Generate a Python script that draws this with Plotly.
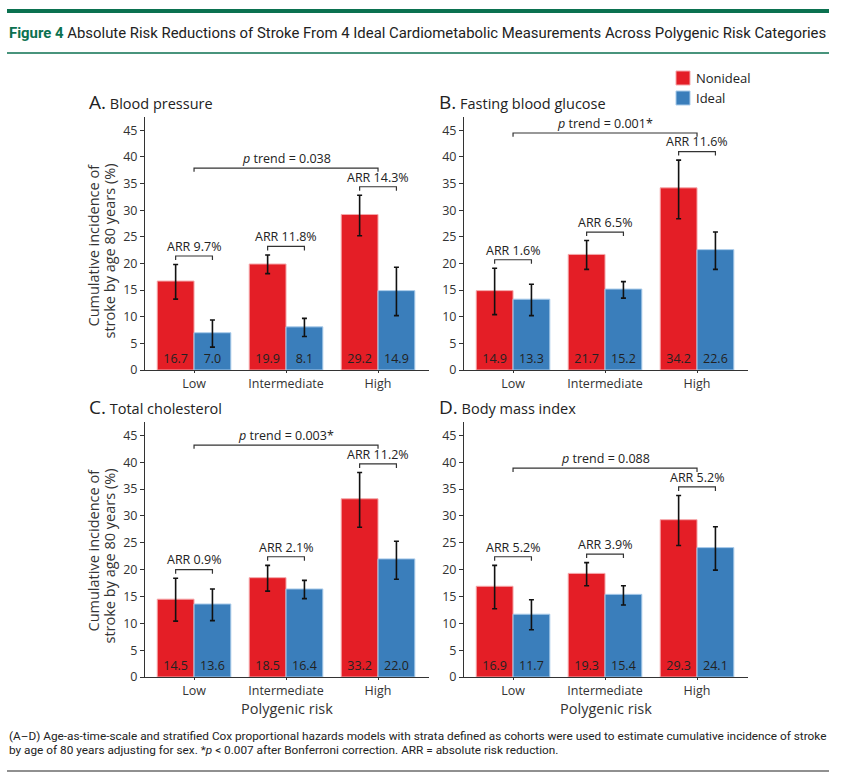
import plotly.graph_objects as go

# ---------------- data ----------------
categories = ["Low", "Intermediate", "High"]
panels = ["A", "B", "C", "D"]
panel_names = ["Blood pressure", "Fasting blood glucose", "Total cholesterol", "Body mass index"]

nonideal = {
    "A": [16.7, 19.9, 29.2],
    "B": [14.9, 21.7, 34.2],
    "C": [14.5, 18.5, 33.2],
    "D": [16.9, 19.3, 29.3],
}
nonideal_lo = {
    "A": [13.3, 18.1, 25.2],
    "B": [10.4, 18.9, 28.4],
    "C": [10.4, 16.0, 27.9],
    "D": [12.7, 17.0, 24.5],
}
nonideal_hi = {
    "A": [19.8, 21.6, 32.8],
    "B": [19.1, 24.3, 39.4],
    "C": [18.4, 20.8, 38.1],
    "D": [20.8, 21.3, 33.8],
}
ideal = {
    "A": [7.0, 8.1, 14.9],
    "B": [13.3, 15.2, 22.6],
    "C": [13.6, 16.4, 22.0],
    "D": [11.7, 15.4, 24.1],
}
ideal_lo = {
    "A": [4.3, 6.3, 10.2],
    "B": [10.2, 13.5, 18.9],
    "C": [10.5, 14.6, 18.2],
    "D": [8.8, 13.4, 19.9],
}
ideal_hi = {
    "A": [9.4, 9.7, 19.3],
    "B": [16.1, 16.6, 25.9],
    "C": [16.4, 18.0, 25.3],
    "D": [14.4, 17.0, 28.0],
}
arr_labels = {
    "A": ["ARR 9.7%", "ARR 11.8%", "ARR 14.3%"],
    "B": ["ARR 1.6%", "ARR 6.5%", "ARR 11.6%"],
    "C": ["ARR 0.9%", "ARR 2.1%", "ARR 11.2%"],
    "D": ["ARR 5.2%", "ARR 3.9%", "ARR 5.2%"],
}
p_trend = {"A": "0.038", "B": "0.001*", "C": "0.003*", "D": "0.088"}
series_names = ["Nonideal", "Ideal"]

title_text = "Absolute Risk Reductions of Stroke From 4 Ideal Cardiometabolic Measurements Across Polygenic Risk Categories"
footer_line1 = ("(A–D) Age-as-time-scale and stratified Cox proportional hazards models with strata defined as cohorts "
                "were used to estimate cumulative incidence of stroke")
footer_line2 = "by age of 80 years adjusting for sex. *<i>p</i> &lt; 0.007 after Bonferroni correction. ARR = absolute risk reduction."
y_title_lines = ["Cumulative incidence of", "stroke by age 80 years (%)"]

# ---------------- style ----------------
W, H = 844, 785          # figure size
REF_W, REF_H = 844, 777  # layout grid used for placement (paper fractions)
RED = "#E41E26"
BLUE = "#3A7EBB"
GREEN = "#0B7150"
FONT = "Open Sans"
NARROW = "Roboto"
TXT = "#222222"

x_pos = [0, 1, 2]
half = 0.2  # bar offset within a group (bargap 0.2 -> bar width 0.4)


def fx(px):
    return px / REF_W


def fy(py):
    return 1 - py / REF_H


col_x = [(145, 429), (464, 748)]
row_y = [(117, 370), (422, 677)]
YMAX = 47.5

fig = go.Figure()
layout_axes = {}
shapes = []
annotations = []

for i, p in enumerate(panels):
    r, c = divmod(i, 2)
    n = i + 1
    xa = "x" if n == 1 else f"x{n}"
    ya = "y" if n == 1 else f"y{n}"
    xk = "xaxis" if n == 1 else f"xaxis{n}"
    yk = "yaxis" if n == 1 else f"yaxis{n}"

    for vals, lo, hi, col, edge, nm in [
        (nonideal[p], nonideal_lo[p], nonideal_hi[p], RED, "#F5A7AA", series_names[0]),
        (ideal[p], ideal_lo[p], ideal_hi[p], BLUE, "#A9CBEA", series_names[1]),
    ]:
        fig.add_trace(go.Bar(
            x=x_pos, y=vals, name=nm, showlegend=False, xaxis=xa, yaxis=ya,
            marker=dict(color=col, line=dict(color=edge, width=1)),
            error_y=dict(type="data", symmetric=False,
                         array=[h - v for h, v in zip(hi, vals)],
                         arrayminus=[v - l for l, v in zip(lo, vals)],
                         color="#111111", thickness=1.6, width=2.5),
            text=[f"{v:.1f}" for v in vals], textposition="inside",
            insidetextanchor="start", textangle=0,
            textfont=dict(family=FONT, size=12.5, color=TXT),
            hoverinfo="skip",
        ))

    x0, x1 = col_x[c]
    ytop, ybot = row_y[r]
    layout_axes[xk] = dict(
        domain=[fx(x0), fx(x1)], anchor=ya, range=[-0.533, 2.554],
        tickvals=x_pos, ticktext=categories, showline=True, linecolor="#333",
        linewidth=1, ticks="outside", ticklen=2, tickcolor="#333",
        showgrid=False, zeroline=False, fixedrange=True,
        tickfont=dict(family=FONT, size=12.5, color="#333"),
        title=dict(text="Polygenic risk" if r == 1 else "",
                   font=dict(family=FONT, size=14.5, color="#333"), standoff=2),
    )
    layout_axes[yk] = dict(
        domain=[fy(ybot), fy(ytop)], anchor=xa, range=[0, YMAX],
        tickvals=[0, 5, 10, 15, 20, 25, 30, 35, 40, 45],
        showline=True, linecolor="#333", linewidth=1, ticks="outside",
        ticklen=4, tickcolor="#333", showgrid=False, zeroline=False,
        fixedrange=True, tickfont=dict(family=FONT, size=12.5, color="#333"),
    )

    # y-axis title (left column only), two rotated lines
    if c == 0:
        for j, line in enumerate(y_title_lines):
            annotations.append(dict(
                x=fx(93 + 16 * j), y=fy(ytop + 45), xref="paper", yref="paper",
                xanchor="center", yanchor="top", showarrow=False, textangle=-90,
                text=line, font=dict(family=FONT, size=14.5, color="#333"),
            ))

    # ARR brackets
    arr_y = []
    for k in range(3):
        yb = max(nonideal_hi[p][k], ideal_hi[p][k]) + 1.6
        arr_y.append(yb)
        shapes.append(dict(
            type="path", xref=xa, yref=ya,
            path=f"M {k - half},{yb - 0.75} L {k - half},{yb} L {k + half},{yb} L {k + half},{yb - 0.75}",
            line=dict(color="#333", width=1.2),
        ))
        annotations.append(dict(
            x=k, y=yb - 0.15, xref=xa, yref=ya, text=arr_labels[p][k],
            showarrow=False, yanchor="bottom",
            font=dict(family=FONT, size=12.5, color=TXT),
        ))
    # p trend bracket
    yt = max(arr_y) + 3.5
    shapes.append(dict(
        type="path", xref=xa, yref=ya,
        path=f"M 0,{yt - 0.7} L 0,{yt} L 2,{yt} L 2,{yt - 0.7}",
        line=dict(color="#333", width=1.2),
    ))
    annotations.append(dict(
        x=1, y=yt - 0.1, xref=xa, yref=ya, text=f"<i>p</i> trend = {p_trend[p]}",
        showarrow=False, yanchor="bottom",
        font=dict(family=FONT, size=12.5, color=TXT),
    ))
    # panel title
    annotations.append(dict(
        x=fx(x0 - 58 if c == 0 else x0 - 27), y=fy(ytop - 15), xref="paper", yref="paper",
        xanchor="left", yanchor="middle", showarrow=False,
        text=f"<span style='font-size:19px'>{p}.</span> {panel_names[i]}",
        font=dict(family=FONT, size=14.5, color="#222"),
    ))

# manual legend (top right)
for j, (nm, col, edge) in enumerate([(series_names[0], RED, "#F5A7AA"), (series_names[1], BLUE, "#A9CBEA")]):
    yc = 78 + 20 * j
    shapes.append(dict(type="rect", xref="paper", yref="paper",
                       x0=fx(676), x1=fx(690), y0=fy(yc - 7), y1=fy(yc + 7),
                       fillcolor=col, line=dict(color=edge, width=1)))
    annotations.append(dict(x=fx(694), y=fy(yc), xref="paper", yref="paper",
                            xanchor="left", yanchor="middle", showarrow=False, text=nm,
                            font=dict(family=FONT, size=13, color="#222")))

# header / footer
shapes.append(dict(type="line", xref="paper", yref="paper", x0=fx(7), x1=fx(829),
                   y0=fy(11), y1=fy(11), line=dict(color=GREEN, width=4)))
shapes.append(dict(type="line", xref="paper", yref="paper", x0=fx(7), x1=fx(829),
                   y0=fy(53), y1=fy(53), line=dict(color=GREEN, width=1.5)))
shapes.append(dict(type="line", xref="paper", yref="paper", x0=fx(7), x1=fx(829),
                   y0=fy(771), y1=fy(771), line=dict(color="#222", width=1.2)))
annotations.append(dict(
    x=fx(7), y=fy(33), xref="paper", yref="paper", xanchor="left", yanchor="middle",
    showarrow=False,
    text=f"<b><span style='color:{GREEN}'>Figure 4</span></b> {title_text}",
    font=dict(family=NARROW, size=14.9, color="#222"),
))
for j, line in enumerate([footer_line1, footer_line2]):
    annotations.append(dict(
        x=fx(7), y=fy(736 + 14 * j), xref="paper", yref="paper", xanchor="left", yanchor="middle",
        showarrow=False, align="left", text=line,
        font=dict(family=NARROW, size=11.8, color="#222"),
    ))

fig.update_layout(
    width=W, height=H, margin=dict(l=0, r=0, t=0, b=0),
    paper_bgcolor="white", plot_bgcolor="white",
    barmode="group", bargap=0.2, bargroupgap=0,
    font=dict(family=FONT, color="#222"),
    showlegend=False,
    shapes=shapes, annotations=annotations,
    uniformtext=dict(minsize=8, mode="show"),
    **layout_axes,
)

fig.write_html("out.html", config={"displayModeBar": False},
               post_script="document.body.style.margin='0';document.body.style.overflow='hidden';")
